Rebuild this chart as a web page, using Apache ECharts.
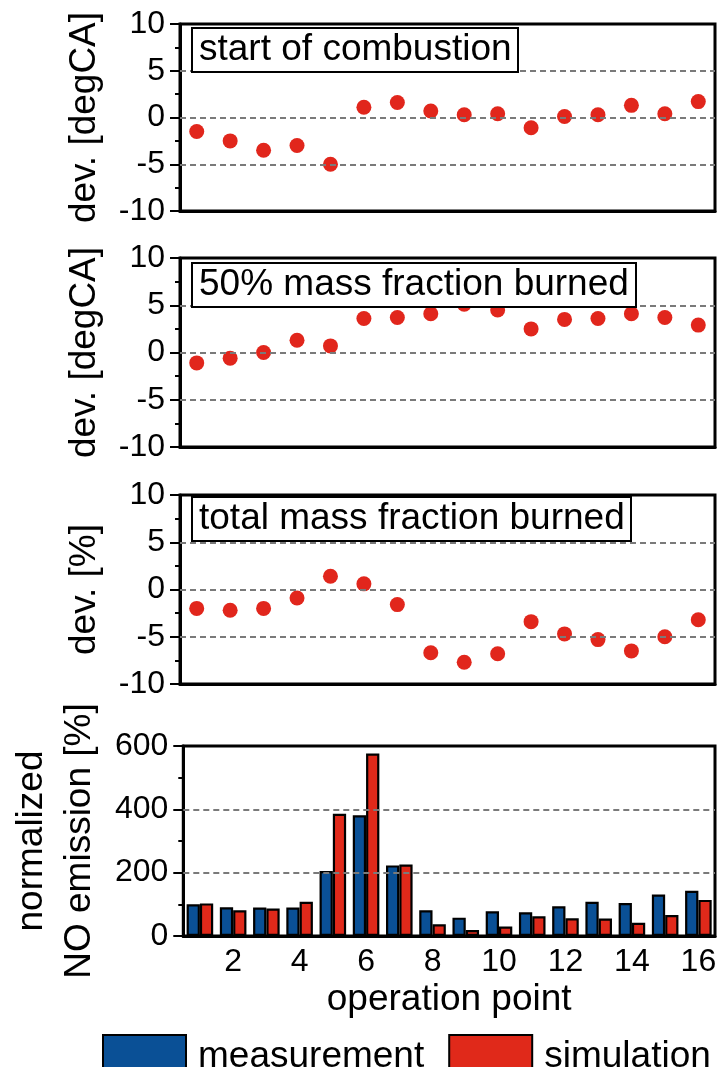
<!DOCTYPE html>
<html>
<head>
<meta charset="utf-8">
<script src="https://cdn.jsdelivr.net/npm/echarts@6/dist/echarts.min.js"></script>
<style>
  html, body { margin: 0; padding: 0; background: #fff; }
  #chart { width: 728px; height: 1067px; }
</style>
</head>
<body>
<div id="chart"></div>
<script>
// ---- data ----
const categories = ['1','2','3','4','5','6','7','8','9','10','11','12','13','14','15','16'];
const socDev = [-1.5, -2.5, -3.5, -3.0, -5.0, 1.1, 1.6, 0.7, 0.3, 0.4, -1.1, 0.1, 0.3, 1.3, 0.4, 1.7];
const mfb50Dev = [-1.1, -0.6, 0.0, 1.3, 0.7, 3.6, 3.7, 4.1, 5.1, 4.5, 2.5, 3.5, 3.6, 4.1, 3.7, 2.9];
const totalMfbDev = [-2.0, -2.2, -2.0, -0.9, 1.4, 0.6, -1.6, -6.7, -7.7, -6.8, -3.4, -4.7, -5.3, -6.5, -5.0, -3.2];
const noMeasurement = [100, 91, 90, 90, 205, 381, 223, 81, 58, 78, 75, 94, 108, 104, 131, 143];
const noSimulation = [103, 81, 87, 108, 386, 576, 226, 37, 19, 30, 62, 56, 55, 42, 66, 114];
const devTicks = [-10, -5, 0, 5, 10];
const noTicks = [0, 200, 400, 600];
const panelTitles = ['start of combustion', '50% mass fraction burned', 'total mass fraction burned'];
const devNames = ['dev. [degCA]', 'dev. [degCA]', 'dev. [%]'];
const noName = 'normalized\nNO emission [%]';
const xName = 'operation point';
const seriesNames = ['measurement', 'simulation'];

// ---- style ----
const font = '"Liberation Sans", Arial, sans-serif';
const BLACK = '#000';
const RED = '#e1261c';
const BLUE = '#0a5096';
const BAR_RED = '#e0291a';
const LW = 3;

const gridBase = { show: true, borderColor: BLACK, borderWidth: LW, backgroundColor: 'transparent' };
const grids = [
  Object.assign({ left: 180, right: 13, top: 24, height: 187 }, gridBase),
  Object.assign({ left: 180, right: 13, top: 258, height: 189 }, gridBase),
  Object.assign({ left: 180, right: 13, top: 495, height: 189 }, gridBase),
  Object.assign({ left: 181, right: 13, top: 746, height: 190 }, gridBase)
];

function ticksInfo(t) {
  return { min: t[0], max: t[t.length - 1], interval: t[1] - t[0] };
}

const xAxes = [];
const yAxes = [];
const series = [];

function leftAxis(gi, ticks, name, nameGap, lineHeight) {
  const ti = ticksInfo(ticks);
  return {
    gridIndex: gi, type: 'value', position: 'left',
    min: ti.min, max: ti.max, interval: ti.interval,
    name: name, nameLocation: 'middle', nameGap: nameGap,
    nameTextStyle: { fontSize: 37, fontFamily: font, color: BLACK, lineHeight: lineHeight },
    axisLine: { show: true, onZero: false, lineStyle: { color: BLACK, width: LW } },
    axisTick: { show: true, length: 10, lineStyle: { color: BLACK, width: 2 } },
    minorTick: { show: true, splitNumber: 2, length: 5, lineStyle: { color: BLACK, width: 2 } },
    axisLabel: { fontSize: 32, fontFamily: font, color: BLACK, margin: 15 },
    splitLine: { show: false }
  };
}

// dashed reference lines at the inner ticks (drawn under the marks)
function gridLineSeries(axisIdx, ticks) {
  return {
    type: 'line', xAxisIndex: axisIdx, yAxisIndex: axisIdx, data: [], z: 1, silent: true,
    markLine: {
      silent: true, symbol: 'none', animation: false,
      label: { show: false },
      lineStyle: { color: '#7a7a7a', width: 2, type: [6, 4] },
      emphasis: { disabled: true },
      data: ticks.slice(1, -1).map(function (v) { return { yAxis: v }; })
    }
  };
}

const devData = [socDev, mfb50Dev, totalMfbDev];
for (let i = 0; i < 3; i++) {
  xAxes.push({
    gridIndex: i, type: 'category', data: categories, position: 'bottom',
    axisLine: { show: true, onZero: false, lineStyle: { color: BLACK, width: LW } },
    axisTick: { show: false }, axisLabel: { show: false }, splitLine: { show: false }
  });
  yAxes.push(leftAxis(i, devTicks, devNames[i], 77));
  series.push(gridLineSeries(i, devTicks));
  series.push({
    type: 'scatter', xAxisIndex: i, yAxisIndex: i, z: 3,
    data: devData[i], symbolSize: 15,
    itemStyle: { color: RED, opacity: 1 }
  });
}

// bar panel
xAxes.push({
  gridIndex: 3, type: 'category', data: categories, position: 'bottom',
  name: xName, nameLocation: 'middle', nameGap: 45,
  nameTextStyle: { fontSize: 37, fontFamily: font, color: BLACK, verticalAlign: 'top' },
  axisLine: { show: true, onZero: false, lineStyle: { color: BLACK, width: LW } },
  axisTick: { show: false },
  axisLabel: {
    fontSize: 32, fontFamily: font, color: BLACK, margin: 10,
    interval: function (idx) { return idx % 2 === 1; }
  },
  splitLine: { show: false }
});
yAxes.push(leftAxis(3, noTicks, noName, 74, 48));
series.push(gridLineSeries(3, noTicks));
series.push({
  name: seriesNames[0], type: 'bar', xAxisIndex: 3, yAxisIndex: 3, z: 3,
  data: noMeasurement, barGap: '0%', barCategoryGap: '20%',
  itemStyle: { color: BLUE, borderColor: BLACK, borderWidth: 2.2 }
});
series.push({
  name: seriesNames[1], type: 'bar', xAxisIndex: 3, yAxisIndex: 3, z: 3,
  data: noSimulation, barGap: '0%', barCategoryGap: '20%',
  itemStyle: { color: BAR_RED, borderColor: BLACK, borderWidth: 2.2 }
});

const titleTops = [28, 263, 497];
const titles = panelTitles.map(function (t, i) {
  return {
    text: t, left: 192, top: titleTops[i],
    borderColor: BLACK, borderWidth: 2, backgroundColor: '#fff',
    padding: [3, 7, 3, 7],
    textStyle: { fontSize: 37, fontWeight: 'normal', fontFamily: font, color: BLACK, lineHeight: 38 }
  };
});

const chart = echarts.init(document.getElementById('chart'), null, { renderer: 'canvas' });
chart.setOption({
  backgroundColor: '#fff',
  animation: false,
  title: titles,
  grid: grids,
  xAxis: xAxes,
  yAxis: yAxes,
  legend: {
    data: seriesNames, left: 97, top: 1029,
    itemWidth: 83, itemHeight: 44, itemGap: 24, icon: 'rect',
    textStyle: { fontSize: 37, fontFamily: font, color: BLACK, padding: [0, 0, 8, 7] }
  },
  series: series
});
</script>
</body>
</html>
